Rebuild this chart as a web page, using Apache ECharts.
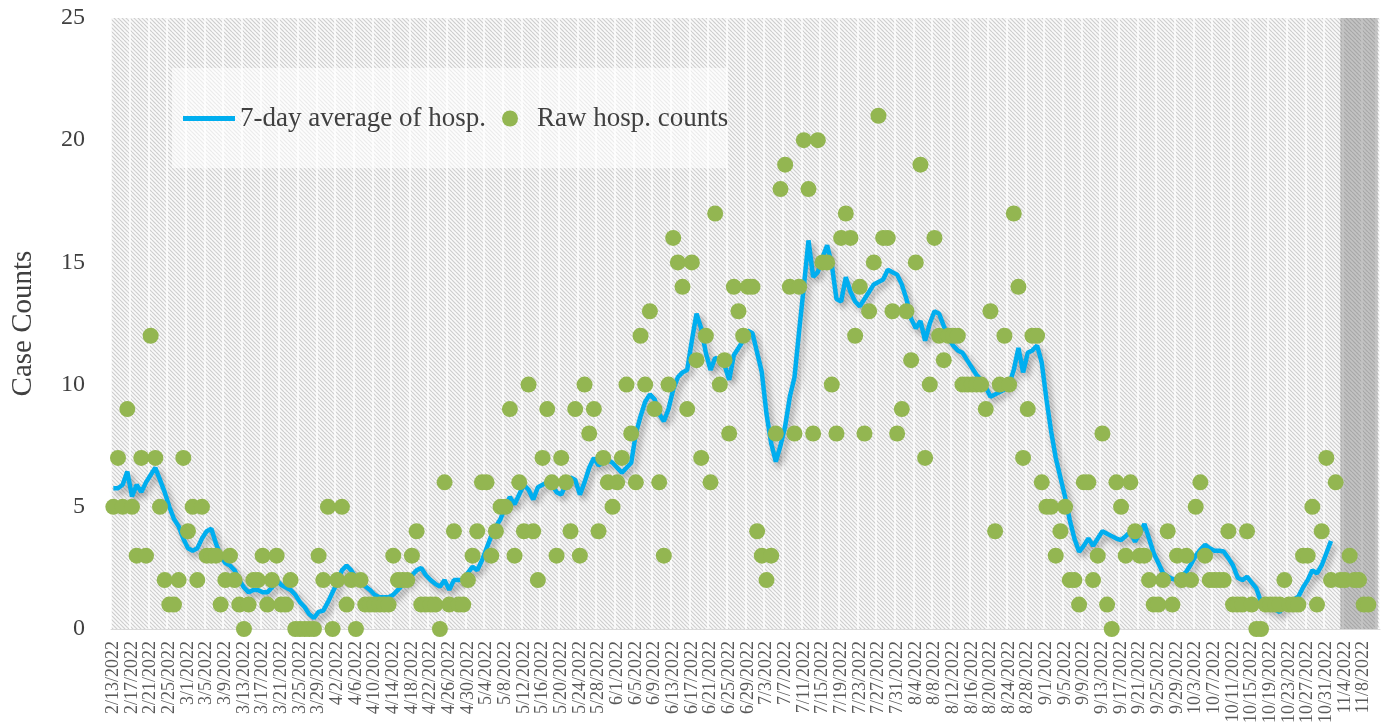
<!DOCTYPE html>
<html>
<head>
<meta charset="utf-8">
<script src="https://cdn.jsdelivr.net/npm/echarts@6/dist/echarts.min.js"></script>
<style>
html,body{margin:0;padding:0;background:#ffffff;}
#chart{width:1385px;height:726px;}
</style>
</head>
<body>
<div id="chart"></div>
<script>
// ---- DATA ----
const startDate = [2022, 2, 13];   // first category (M/D/YYYY)
const dayCount = 272;              // 2/13/2022 .. 11/11/2022
const labelEvery = 4;              // one date label every 4 days

const rawCounts = [
5,7,5,9,5,3,7,3,12,7,
5,2,1,1,2,7,4,5,2,5,
3,3,3,1,2,3,2,1,0,1,
2,2,3,1,2,3,1,1,2,0,
0,0,0,0,3,2,5,0,2,5,
1,2,0,2,1,1,1,1,1,1,
3,2,2,2,3,4,1,1,1,1,
0,6,1,4,1,1,2,3,4,6,
6,3,4,5,5,9,3,6,4,10,
4,2,7,9,6,3,7,6,4,9,
3,10,8,9,4,7,6,5,6,7,
10,8,6,12,10,13,9,6,3,10,
16,15,14,9,15,11,7,12,6,17,
10,11,8,14,13,12,14,14,4,3,
2,3,8,18,19,14,8,14,20,18,
8,20,15,15,10,8,16,17,16,12,
14,8,13,15,21,16,16,13,8,9,
13,11,15,19,7,10,16,12,11,12,
12,12,10,10,10,10,10,9,13,4,
10,12,10,17,14,7,9,12,12,6,
5,5,3,4,5,2,2,1,6,6,
2,3,8,1,0,6,5,3,6,4,
3,3,2,1,1,2,4,1,3,2,
3,2,5,6,3,2,2,2,2,4,
1,1,1,4,1,0,0,1,1,1,
1,2,1,1,1,3,3,5,1,4,
7,2,6,2,2,3,2,2,1,1,
null,null
];

const avgCounts = [
5.76,5.76,5.9,6.44,5.42,5.9,5.6,6.0,6.3,6.6,
6.1,5.6,5.0,4.5,4.2,3.7,3.3,3.2,3.3,3.7,
4.0,4.1,3.5,3.0,2.7,2.6,2.4,2.0,1.7,1.5,
1.6,1.6,1.5,1.5,1.7,2.0,1.8,1.7,1.6,1.4,
1.1,0.9,0.6,0.45,0.7,0.75,1.1,1.5,1.9,2.4,
2.6,2.4,2.1,1.9,1.75,1.6,1.4,1.3,1.3,1.3,
1.4,1.6,1.8,1.9,2.2,2.4,2.5,2.2,2.0,1.85,
1.73,2.0,1.6,2.0,2.0,2.0,2.3,2.55,2.4,2.8,
3.3,3.8,4.2,4.5,5.0,5.4,5.1,5.5,5.9,5.7,
5.3,5.8,5.9,6.0,5.9,5.6,5.5,5.9,6.2,6.1,
5.5,6.0,6.6,7.0,6.7,6.8,6.9,6.8,6.6,6.4,
6.6,6.8,8.0,8.7,9.3,9.6,9.4,8.8,8.5,9.0,
9.8,10.3,10.5,10.6,11.8,12.9,12.3,11.3,10.6,11.1,
11.0,10.8,10.2,11.2,11.5,11.8,12.2,12.1,11.3,10.5,
8.8,7.6,6.85,7.5,8.3,9.5,10.3,12.2,14.0,15.9,
14.4,14.6,15.2,15.7,14.9,13.5,13.4,14.4,13.8,13.4,
13.2,13.5,13.8,14.1,14.2,14.3,14.7,14.6,14.5,14.1,
13.5,12.7,12.3,12.6,11.8,12.5,13.0,12.9,12.4,11.9,
11.6,11.4,11.3,11.0,10.7,10.4,10.2,9.9,9.5,9.6,
9.7,9.8,10.0,10.6,11.5,10.5,11.3,11.4,11.6,10.9,
9.4,8.1,7.0,6.2,5.4,4.46,3.7,3.16,3.4,3.7,
3.4,3.7,4.0,3.9,3.8,3.7,3.64,3.8,3.98,3.57,
3.9,4.3,3.7,3.1,2.7,2.28,2.15,2.05,2.0,2.15,
2.35,2.65,3.0,3.25,3.44,3.3,3.2,3.2,3.17,2.9,
2.6,2.1,2.0,2.14,1.9,1.66,1.1,0.9,0.9,0.8,
0.7,0.95,1.1,1.2,1.32,1.7,2.0,2.4,2.28,2.6,
3.1,3.6,
null,null,null,null,null,null,null,null,null,null
];

const yTicks = [0, 5, 10, 15, 20, 25];
const shadedFrom = '11/3/2022';
const shadedTo = '11/11/2022';
const seriesNames = ['7-day average of hosp.', 'Raw hosp. counts'];

// ---- categories ----
const categories = [];
{
  const d = new Date(startDate[0], startDate[1] - 1, startDate[2]);
  for (let i = 0; i < dayCount; i++) {
    categories.push((d.getMonth() + 1) + '/' + d.getDate() + '/' + d.getFullYear());
    d.setDate(d.getDate() + 1);
  }
}

// ---- hatch pattern ----
function hatch() {
  const c = document.createElement('canvas');
  c.width = 8; c.height = 8;
  const g = c.getContext('2d');
  g.fillStyle = '#fafafa';
  g.fillRect(0, 0, 8, 8);
  g.strokeStyle = '#cecece';
  g.lineWidth = 1.2;
  for (let k = -8; k <= 8; k += 4) {
    g.beginPath();
    g.moveTo(k, 0);
    g.lineTo(k + 8, 8);
    g.stroke();
  }
  return c;
}

const serif = 'Liberation Serif';
const legendText = {fontFamily: serif, fontSize: 27, color: '#404040'};
const chart = echarts.init(document.getElementById('chart'), null, {renderer: 'canvas'});
chart.setOption({
  animation: false,
  backgroundColor: '#ffffff',
  grid: {
    left: 111, right: 5, top: 18, bottom: 97,
    show: true,
    backgroundColor: {image: hatch(), repeat: 'repeat'},
    borderWidth: 0
  },
  graphic: [{
    type: 'rect', z: 1,
    shape: {x: 172, y: 68, width: 555, height: 100},
    style: {fill: 'rgba(255,255,255,0.6)'}
  }],
  legend: [
    {
      data: [{name: seriesNames[0], icon: 'path://M0,0 L52,0 L52,5 L0,5 Z'}],
      left: 183, top: 105, padding: 0,
      itemWidth: 52, itemHeight: 16,
      textStyle: legendText,
      z: 5
    },
    {
      data: [{name: seriesNames[1], icon: 'circle'}],
      left: 502, top: 105, padding: 0,
      itemWidth: 16, itemHeight: 16,
      textStyle: Object.assign({padding: [0, 0, 0, 14]}, legendText),
      z: 5
    }
  ],
  xAxis: {
    type: 'category',
    data: categories,
    boundaryGap: true,
    axisLine: {show: true, lineStyle: {color: '#d9d9d9', width: 1}},
    axisTick: {show: false},
    axisLabel: {
      interval: function (idx) { return idx % labelEvery === 0; },
      rotate: 90,
      showMinLabel: true, showMaxLabel: true, hideOverlap: false,
      fontFamily: serif, fontSize: 18, color: '#595959', margin: 12
    },
    splitLine: {show: true, interval: labelEvery - 1, lineStyle: {color: 'rgba(255,255,255,0.7)', width: 2}}
  },
  yAxis: {
    type: 'value',
    min: yTicks[0], max: yTicks[yTicks.length - 1], interval: 5,
    name: 'Case Counts',
    nameLocation: 'middle',
    nameGap: 73,
    nameTextStyle: {fontFamily: serif, fontSize: 29, color: '#404040'},
    axisLine: {show: false},
    axisTick: {show: false},
    axisLabel: {fontFamily: serif, fontSize: 24, color: '#404040', margin: 26},
    splitLine: {show: false}
  },
  series: [
    {
      name: seriesNames[0],
      type: 'line',
      data: avgCounts,
      symbol: 'none',
      showSymbol: false,
      z: 3,
      lineStyle: {
        color: '#00aeef', width: 4.5,
        shadowColor: 'rgba(0,0,0,0.35)', shadowBlur: 6, shadowOffsetX: 3, shadowOffsetY: 4
      },
      itemStyle: {color: '#00aeef'}
    },
    {
      name: seriesNames[1],
      type: 'scatter',
      data: rawCounts,
      symbol: 'circle',
      symbolSize: 16,
      z: 4,
      itemStyle: {color: '#93b651', opacity: 1}
    },
    {
      name: 'shade',
      type: 'line',
      data: [],
      z: 8,
      markArea: {
        silent: true,
        itemStyle: {color: 'rgba(105,105,105,0.38)'},
        data: [[{xAxis: shadedFrom, yAxis: 25}, {xAxis: shadedTo, yAxis: 0}]]
      }
    }
  ]
});
</script>
</body>
</html>
